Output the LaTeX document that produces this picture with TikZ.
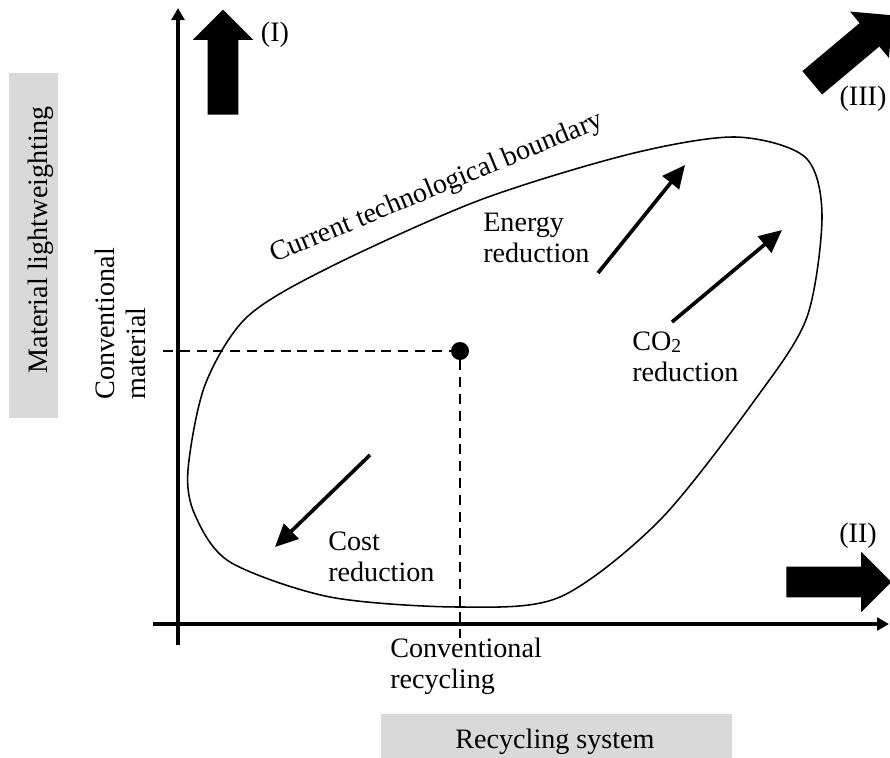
\documentclass[tikz,border=0pt]{standalone}
\usepackage{fontspec}
\setmainfont{Liberation Serif}
\usetikzlibrary{%
  arrows.meta,
  shapes.arrows,
}

\tikzset{
  axisline/.style = {line width=2.5pt, -{Triangle[length=0.3cm, width=0.32cm]}},
  trend/.style = {line width=2.6pt, -{Triangle[length=0.57cm, width=0.52cm]}},
  guide/.style = {line width=1.4pt, dash pattern=on 0.25cm off 0.17cm},
  bigarrow/.style = {
    single arrow, fill=black,
    inner sep=0.375cm,
    single arrow head extend=0.375cm,
    minimum height=2.625cm,
    anchor=tail,
  },
  greybox/.style = {fill=black!15, inner sep=0},
  txt/.style = {align=left, inner sep=0, anchor=north west},
}

\begin{document}
\begin{tikzpicture}[x=0.025cm, y=-0.025cm, font=\fontsize{20pt}{22pt}\selectfont]
  \useasboundingbox (0,0) rectangle (890,758);

  % axis titles
  \node[greybox, minimum width=8.625cm, minimum height=1.225cm, rotate=90] (matBox) at (33.5,245.5) {};
  \node[rotate=90, anchor=base] (matTitle) at (47,240) {Material lightweighting};
  \node[greybox, minimum width=8.775cm, minimum height=1.2cm] (recBox) at (556.5,738) {};
  \node[anchor=base] (recTitle) at (555,748) {Recycling system};

  % axes
  \coordinate (yFoot) at (178,645);
  \coordinate (yTop) at (178,8);
  \coordinate (xFoot) at (153,624);
  \coordinate (xEnd) at (889,624);
  \draw[axisline] (yFoot) -- (yTop);
  \draw[axisline] (xFoot) -- (xEnd);

  % conventional point
  \node[circle, fill=black, inner sep=0, minimum size=0.45cm] (ref) at (460,351) {};
  \coordinate (matTick) at (163,351);
  \coordinate (recTick) at (460,638);
  \draw[guide] (matTick) -- (ref);
  \draw[guide] (ref) -- (recTick);

  % boundary
  \draw[line width=1.1pt] plot[smooth cycle] coordinates {
    (188,470) (205,385) (247,317) (330,267) (480,200) (630,154)
    (735,137) (805,157) (822,215) (807,317) (757,397) (660,520)
    (560,597) (460,607) (330,597) (230,562) (195,515)
  };
  \node[rotate=22.4, anchor=base west, inner sep=0] (bound) at (274,263) {Current technological boundary};

  % reduction trends
  \coordinate (eTail) at (598,273);
  \coordinate (eHead) at (685,165);
  \coordinate (cTail) at (672,322);
  \coordinate (cHead) at (782,230);
  \coordinate (kTail) at (370,455);
  \coordinate (kHead) at (275,547);
  \begin{scope}[trend]
    \draw (eTail) -- (eHead);
    \draw (cTail) -- (cHead);
    \draw (kTail) -- (kHead);
  \end{scope}

  \node[txt] (energy) at (483,213) {Energy\\reduction};
  \node[txt] (co2) at (632,332) {CO\raisebox{-0.15ex}{\fontsize{14pt}{14pt}\selectfont 2}\\reduction};
  \node[txt] (cost) at (328,532) {Cost\\reduction};
  \node[txt] (convRec) at (390,638) {Conventional\\recycling};
  \node[txt, rotate=90] (convMat) at (95,400) {Conventional\\material};

  % directions
  \node[bigarrow, rotate=90] (dirI) at (223,115) {};
  \node (labI) at (275,35) {(I)};
  \node[bigarrow] (dirII) at (786,582) {};
  \node (labII) at (858,536) {(II)};
  \node[bigarrow, rotate=40] (dirIII) at (812,83) {};
  \node (labIII) at (863,99) {(III)};
\end{tikzpicture}
\end{document}
